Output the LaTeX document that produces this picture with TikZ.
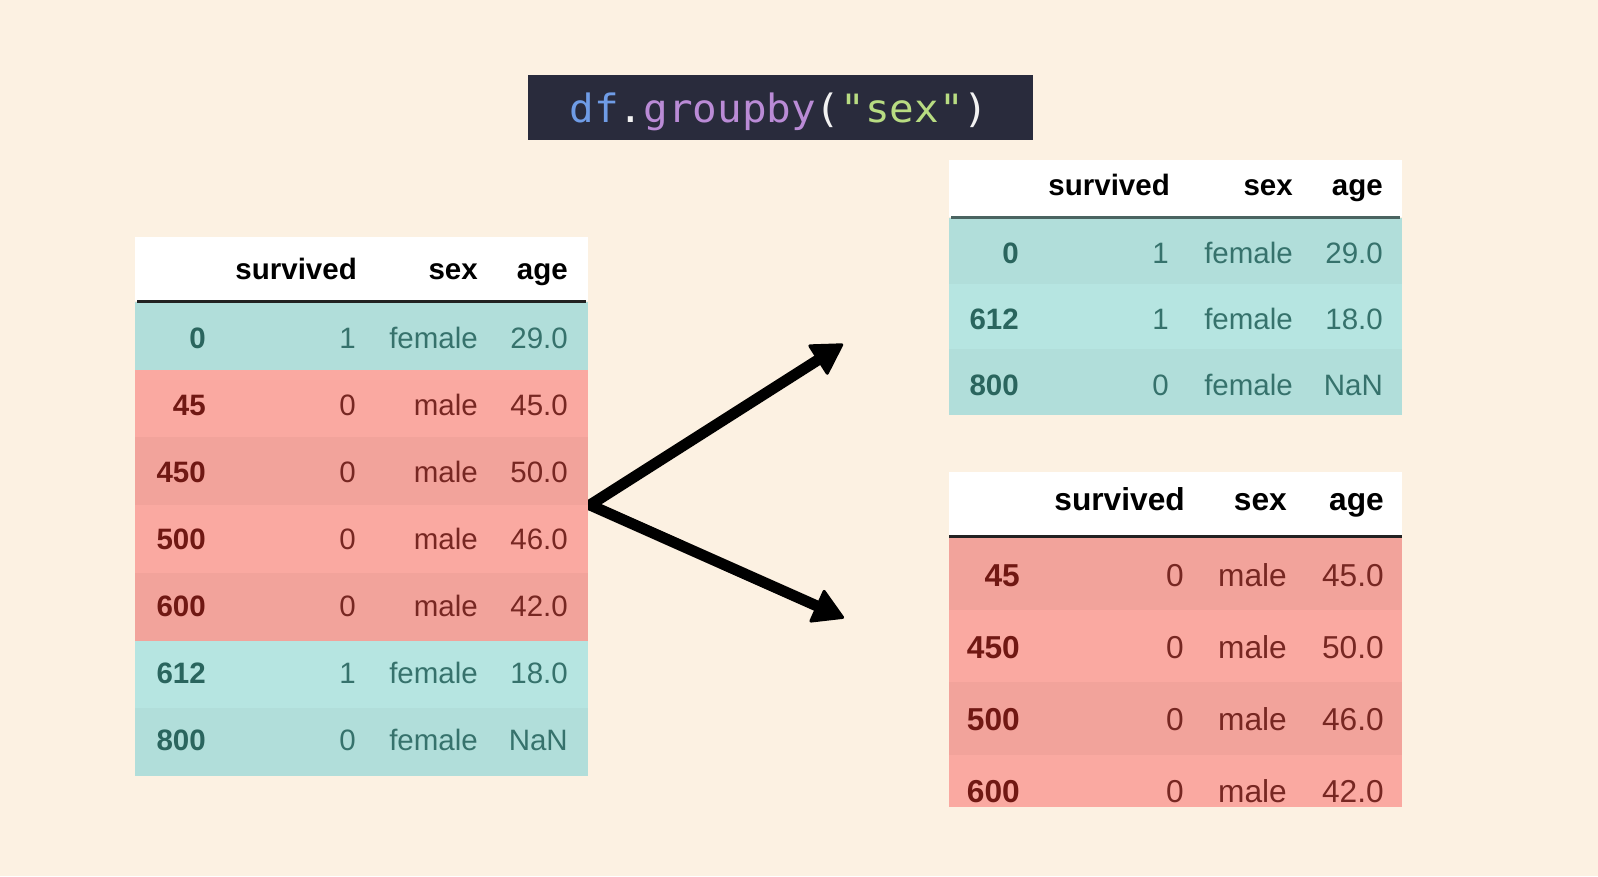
\documentclass[tikz,border=0pt]{standalone}
\usepackage{fontspec}
\setmainfont{Liberation Sans}
\newfontfamily\codefont{DejaVu Sans Mono}[FakeStretch=1.05]
\usetikzlibrary{arrows.meta}
\definecolor{bg}{HTML}{FCF1E2}
\definecolor{tealL}{HTML}{B6E5E1}
\definecolor{tealD}{HTML}{B1DEDA}
\definecolor{redL}{HTML}{FAA9A1}
\definecolor{redD}{HTML}{F2A39B}
\definecolor{tealIdx}{HTML}{2A655E}
\definecolor{tealVal}{HTML}{36726C}
\definecolor{redIdx}{HTML}{701813}
\definecolor{redVal}{HTML}{772722}
\definecolor{codebg}{HTML}{292B3C}
\definecolor{cblue}{HTML}{6F9CE6}
\definecolor{cpurple}{HTML}{BA8BD6}
\definecolor{cgreen}{HTML}{B8DC82}
\definecolor{cwhite}{HTML}{F2F2F2}
\definecolor{hlineA}{HTML}{222222}
\definecolor{hlineB}{HTML}{4A6461}
\tikzset{
  hdr/.style={anchor=base east, inner sep=0pt, font=\fontsize{29.5}{34}\selectfont\bfseries, text=black},
  cellidx/.style={anchor=base east, inner sep=0pt, font=\fontsize{29.5}{34}\selectfont\bfseries},
  cellval/.style={anchor=base east, inner sep=0pt, font=\fontsize{29.5}{34}\selectfont},
  hdrB/.style={hdr, font=\fontsize{31.7}{36}\selectfont\bfseries},
  cellidxB/.style={cellidx, font=\fontsize{31.7}{36}\selectfont\bfseries},
  cellvalB/.style={cellval, font=\fontsize{31.7}{36}\selectfont},
  headline/.style={line width=3pt},
  arrowline/.style={line width=11pt, line cap=round, -{Triangle[length=32pt,width=37pt,round,line width=3pt]}}
}
\begin{document}
\begin{tikzpicture}[x=1pt,y=-1pt]
\useasboundingbox (0,0) rectangle (1598,876);
\fill[bg] (0,0) rectangle (1598,876);

% title
\node[fill=codebg, minimum width=505pt, minimum height=65pt, inner sep=0pt] (titlebox) at (780.5,107.5) {};
\node[anchor=base, inner sep=0pt, font=\codefont\fontsize{39}{44}\selectfont] (code) at (779,122)
  {\textcolor{cblue}{df}\textcolor{cwhite}{.}\textcolor{cpurple}{groupby}\textcolor{cwhite}{(}\textcolor{cgreen}{"sex"}\textcolor{cwhite}{)}};

% arrows
\coordinate (apex) at (590,505);
\coordinate (tipA) at (843,344);
\coordinate (tipB) at (844,618);
\draw[arrowline] (apex) -- (tipA);
\draw[arrowline] (apex) -- (tipB);

% left table
\fill[white] (135,237) rectangle (588,301);
\node[hdr] (Lh-sv) at (357,279) {survived};
\node[hdr] (Lh-sx) at (478,279) {sex};
\node[hdr] (Lh-ag) at (568,279) {age};
\foreach \i/\fc/\ic/\tc/\idx/\sv/\sx/\ag in {
  0/tealD/tealIdx/tealVal/0/1/female/29.0,
  1/redL/redIdx/redVal/45/0/male/45.0,
  2/redD/redIdx/redVal/450/0/male/50.0,
  3/redL/redIdx/redVal/500/0/male/46.0,
  4/redD/redIdx/redVal/600/0/male/42.0,
  5/tealL/tealIdx/tealVal/612/1/female/18.0,
  6/tealD/tealIdx/tealVal/800/0/female/NaN}{
  \fill[\fc] (135,{302+67.7*\i}) rectangle (588,{302+67.7*(\i+1)});
  \node[cellidx, text=\ic] (L\i-idx) at (206,{348+67.15*\i}) {\idx};
  \node[cellval, text=\tc] (L\i-sv) at (356,{348+67.15*\i}) {\sv};
  \node[cellval, text=\tc] (L\i-sx) at (478,{348+67.15*\i}) {\sx};
  \node[cellval, text=\tc] (L\i-ag) at (568,{348+67.15*\i}) {\ag};
}
\draw[headline, hlineA] (137,301) -- (586,301);

% top right table (female)
\fill[white] (949,160) rectangle (1402,217);
\node[hdr] (Th-sv) at (1170,195) {survived};
\node[hdr] (Th-sx) at (1293,195) {sex};
\node[hdr] (Th-ag) at (1383,195) {age};
\foreach \i/\fc/\idx/\sv/\sx/\ag in {
  0/tealD/0/1/female/29.0,
  1/tealL/612/1/female/18.0,
  2/tealD/800/0/female/NaN}{
  \fill[\fc] (949,{218+65.7*\i}) rectangle (1402,{218+65.7*(\i+1)});
  \node[cellidx, text=tealIdx] (T\i-idx) at (1019,{263+66*\i}) {\idx};
  \node[cellval, text=tealVal] (T\i-sv) at (1169,{263+66*\i}) {\sv};
  \node[cellval, text=tealVal] (T\i-sx) at (1293,{263+66*\i}) {\sx};
  \node[cellval, text=tealVal] (T\i-ag) at (1383,{263+66*\i}) {\ag};
}
\draw[headline, hlineB] (951,217) -- (1400,217);

% bottom right table (male)
\fill[white] (949,472) rectangle (1402,536);
\node[hdrB] (Bh-sv) at (1185,510) {survived};
\node[hdrB] (Bh-sx) at (1287,510) {sex};
\node[hdrB] (Bh-ag) at (1384,510) {age};
\foreach \i/\fc/\idx/\sv/\sx/\ag in {
  0/redD/45/0/male/45.0,
  1/redL/450/0/male/50.0,
  2/redD/500/0/male/46.0}{
  \fill[\fc] (949,{537+72.5*\i}) rectangle (1402,{537+72.5*(\i+1)});
  \node[cellidxB, text=redIdx] (B\i-idx) at (1020,{586+72.3*\i}) {\idx};
  \node[cellvalB, text=redVal] (B\i-sv) at (1184,{586+72.3*\i}) {\sv};
  \node[cellvalB, text=redVal] (B\i-sx) at (1287,{586+72.3*\i}) {\sx};
  \node[cellvalB, text=redVal] (B\i-ag) at (1384,{586+72.3*\i}) {\ag};
}
\fill[redL] (949,754.5) rectangle (1402,807);
\node[cellidxB, text=redIdx] (B3-idx) at (1020,802) {600};
\node[cellvalB, text=redVal] (B3-sv) at (1184,802) {0};
\node[cellvalB, text=redVal] (B3-sx) at (1287,802) {male};
\node[cellvalB, text=redVal] (B3-ag) at (1384,802) {42.0};
\draw[headline, hlineA] (949,536) -- (1402,536);
\end{tikzpicture}
\end{document}
